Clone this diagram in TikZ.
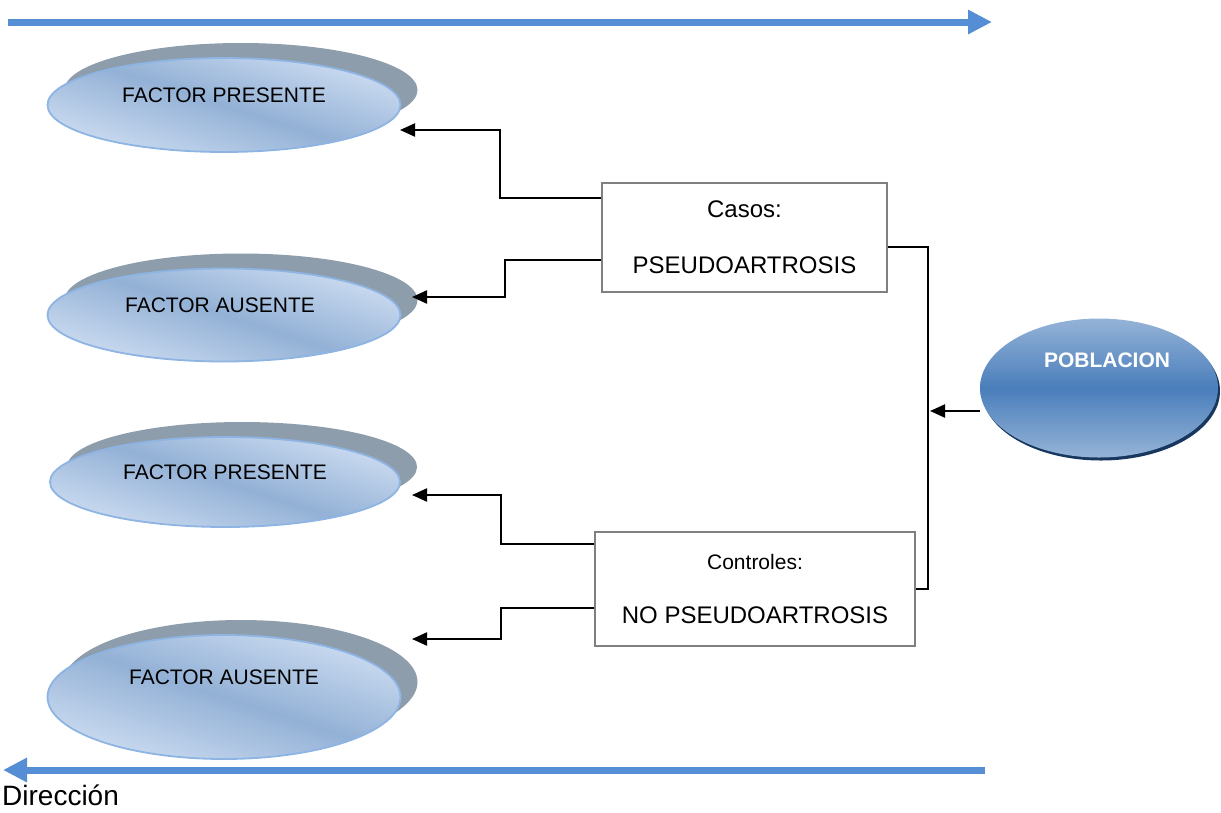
\documentclass[tikz,border=0pt]{standalone}
\usepackage{fontspec}
\setmainfont{Liberation Sans}
\usetikzlibrary{arrows.meta,shapes.geometric,shadows}

\definecolor{factorlight}{RGB}{204,220,241}
\definecolor{factordark}{RGB}{147,177,214}
\definecolor{factoredge}{RGB}{141,180,226}
\definecolor{factorshadow}{RGB}{142,157,172}
\definecolor{poblight}{RGB}{149,179,215}
\definecolor{pobdark}{RGB}{74,126,187}
\definecolor{pobshadow}{RGB}{23,55,94}
\definecolor{dirblue}{RGB}{85,142,213}
\definecolor{boxedge}{RGB}{128,128,128}

\newcommand\factorfont{\fontsize{21}{25}\selectfont}
\newcommand\groupfont{\fontsize{24}{28}\selectfont}

\tikzset{
  factor/.style={ellipse, minimum width=353pt, minimum height=94pt, inner sep=0pt,
    draw=factoredge, line width=1.8pt,
    top color=factorlight, bottom color=factorlight, middle color=factordark, shading angle=-18,
    drop shadow={shadow xshift=17pt, shadow yshift=15pt, fill=factorshadow, opacity=1}},
  group/.style={draw=boxedge, line width=2pt, minimum width=285pt, minimum height=109pt,
    inner sep=0pt, align=center, font=\groupfont},
  conn/.style={line width=2.2pt, -{Triangle[length=15pt, width=13pt]}},
  bracket/.style={line width=1.6pt},
  dirarrow/.style={dirblue, line width=7pt, -{Triangle[length=24pt, width=23pt]}}
}

\begin{document}
\begin{tikzpicture}[x=1pt, y=-1pt]
\useasboundingbox (0,0) rectangle (1221,812);

% direction arrows
\coordinate (topstart) at (8,22);
\coordinate (topend) at (992,22);
\coordinate (botstart) at (985,770);
\coordinate (botend) at (3,770);
\draw[dirarrow] (topstart) -- (topend);
\draw[dirarrow] (botstart) -- (botend);
\node[anchor=base west, inner sep=0pt, font=\fontsize{28}{32}\selectfont] (dir) at (2,805) {Dirección};

% factor ellipses
\node[factor, label={[font=\factorfont, yshift=10pt]center:FACTOR PRESENTE}] (fp1) at (224,105) {};
\node[factor, minimum height=93pt, label={[font=\factorfont, yshift=10pt, xshift=-4pt]center:FACTOR AUSENTE}] (fa1) at (224,315) {};
\node[factor, minimum width=350pt, minimum height=90pt, label={[font=\factorfont, yshift=10pt]center:FACTOR PRESENTE}] (fp2) at (225,482) {};
\node[factor, minimum height=124pt, label={[font=\factorfont, yshift=20pt]center:FACTOR AUSENTE},
  drop shadow={shadow xshift=15pt, shadow yshift=13pt, fill=factorshadow, opacity=1}] (fa2) at (224,697) {};

% poblacion
\node[ellipse, minimum width=238pt, minimum height=139pt, inner sep=0pt,
  top color=poblight, bottom color=poblight, middle color=pobdark,
  drop shadow={shadow xshift=2pt, shadow yshift=-3pt, fill=pobshadow, opacity=1},
  label={[font=\fontsize{21}{25}\selectfont\bfseries, text=white, xshift=8pt, yshift=28pt]center:POBLACION}]
  (pob) at (1099,388) {};

% groups
\node[group] (casos) at (744.5,237.5) {Casos:\\[28pt]PSEUDOARTROSIS};
\node[group, minimum width=320pt, minimum height=114pt] (controles) at (755,589)
  {{\fontsize{21}{25}\selectfont Controles:}\\[26pt]NO PSEUDOARTROSIS};

% arrow ends
\coordinate (infp1) at (400,130);
\coordinate (infa1) at (412,297);
\coordinate (infp2) at (412,495);
\coordinate (infa2) at (412,639);
\coordinate (junc) at (928,411);

% connectors
\draw[conn] ([yshift=39.5pt]casos.west) -| ([xshift=100pt]infp1) -- (infp1);
\draw[conn] ([yshift=-22.5pt]casos.west) -| ([xshift=93pt]infa1) -- (infa1);
\draw[conn] ([yshift=45pt]controles.west) -| ([xshift=89pt]infp2) -- (infp2);
\draw[conn] ([yshift=-19pt]controles.west) -| ([xshift=89pt]infa2) -- (infa2);
\draw[bracket] ([yshift=-9.5pt]casos.east) -| (junc) |- (controles.east);
\draw[conn] (junc -| pob.west) -- ([xshift=2pt]junc);
\end{tikzpicture}
\end{document}
